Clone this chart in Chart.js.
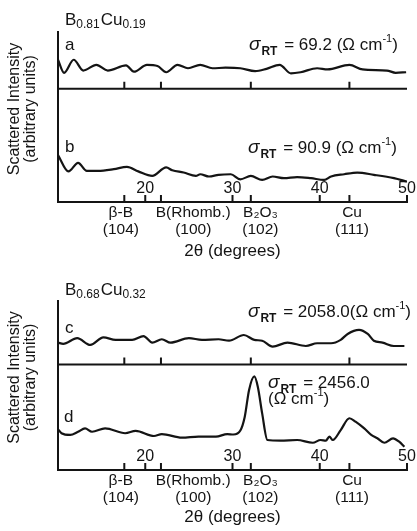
<!DOCTYPE html>
<html>
<head>
<meta charset="utf-8">
<script src="https://cdn.jsdelivr.net/npm/chart.js@4"></script>
<style>
  body { margin: 0; background: #fff; }
  canvas { position: absolute; left: 0; }
  #upperChart { top: 0; }
  #lowerChart { top: 265px; }
</style>
</head>
<body>
<canvas id="upperChart" width="417" height="265"></canvas>
<canvas id="lowerChart" width="417" height="266"></canvas>
<script>
// reference reflections marked under each pair of patterns
const refAngles = [17.6, 21.8, 32.1, 43.4];
const refNames = ['β-B', 'B(Rhomb.)', 'B₂O₃', 'Cu'];
const refPlanes = ['(104)', '(100)', '(102)', '(111)'];
const refLabelAngles = [17.2, 25.5, 33.2, 43.7];
const degreeTicks = [20, 30, 40, 50];

// B0.81Cu0.19, pattern a
const aAngle = [10.0, 10.7, 11.8, 12.9, 14.4, 15.7, 17.8, 18.7, 20.2, 21.4, 22.4, 23.7, 24.9, 26.3, 27.7,
  29.2, 30.9, 32.6, 33.9, 35.4, 36.7, 37.8, 39.7, 40.9, 43.4, 44.9, 47.7, 48.7, 49.9];
const aIntensity = [5.1, 2.8, 5.1, 3.2, 4.2, 3.2, 4.1, 3.0, 4.2, 4.0, 2.9, 4.2, 3.6, 4.2, 3.6,
  3.7, 3.6, 3.1, 3.5, 4.2, 2.7, 2.9, 3.6, 3.4, 4.2, 3.4, 3.2, 2.8, 2.9];

// B0.81Cu0.19, pattern b
const bAngle = [10.0, 11.2, 12.3, 13.3, 14.6, 16.4, 17.9, 19.2, 20.8, 22.4, 23.1, 24.4, 25.8, 26.3, 27.3,
  28.4, 29.8, 30.9, 32.1, 33.4, 34.6, 35.9, 37.4, 39.0, 40.5, 41.3, 42.8, 44.3, 46.2, 48.5, 50.0];
const bIntensity = [8.3, 5.4, 6.9, 5.5, 5.5, 5.8, 6.2, 5.4, 4.6, 6.1, 5.6, 5.2, 4.6, 4.9, 4.5,
  4.8, 4.9, 4.0, 4.6, 3.9, 4.5, 4.2, 4.4, 4.2, 3.9, 4.5, 4.9, 5.2, 4.8, 4.2, 3.6];

// B0.68Cu0.32, pattern c
const cAngle = [10.0, 10.6, 12.2, 13.7, 15.2, 16.6, 18.5, 19.8, 20.8, 21.9, 22.9, 25.0, 26.5, 28.4, 29.6,
  31.3, 32.5, 33.4, 34.6, 36.3, 38.4, 39.7, 41.3, 42.4, 43.2, 44.5, 45.5, 46.2, 47.2, 48.5, 49.7];
const cIntensity = [10.3, 9.7, 12.4, 9.2, 12.8, 11.6, 11.6, 13.4, 10.3, 11.9, 10.3, 12.4, 11.6, 11.9, 11.2,
  13.9, 11.6, 11.2, 8.4, 10.3, 8.7, 10.0, 10.0, 11.6, 14.4, 16.3, 14.4, 11.2, 10.3, 8.7, 8.7];

// B0.68Cu0.32, pattern d
const dAngle = [10.0, 10.4, 11.4, 12.3, 13.1, 13.9, 15.4, 17.7, 18.9, 21.0, 21.9, 24.2, 26.1, 28.1, 29.4,
  30.1, 30.9, 31.4, 31.9, 32.5, 32.9, 33.4, 34.0, 35.5, 37.4, 39.2, 40.1, 40.7, 41.1, 41.5,
  42.4, 43.4, 44.1, 45.1, 45.9, 46.6, 47.4, 48.4, 49.1, 49.7];
const dIntensity = [19.3, 17.4, 16.6, 18.1, 19.7, 18.1, 19.7, 17.4, 18.5, 16.1, 17.0, 15.3, 15.8, 15.8, 17.0,
  16.8, 18.7, 25.1, 37.9, 44.3, 39.4, 26.8, 14.2, 13.9, 14.2, 12.9, 14.2, 13.9, 15.8, 14.2,
  18.9, 24.5, 22.9, 19.7, 16.6, 15.0, 12.9, 15.0, 13.4, 11.0];

const ink = '#141414';
const FONT = '"Liberation Sans", Arial, sans-serif';

Chart.defaults.font.family = FONT;
Chart.defaults.color = ink;

function points(angles, values, offset) {
  return angles.map((a, i) => ({ x: a, y: values[i] + offset }));
}

function trace(angles, values, offset) {
  return {
    data: points(angles, values, offset),
    borderColor: ink,
    borderWidth: 2.2,
    pointRadius: 0,
    fill: false,
    cubicInterpolationMode: 'monotone'
  };
}

// text with sub/superscripts, drawn piece by piece
function drawRuns(ctx, x, y, runs) {
  runs.forEach(r => {
    ctx.font = r.font;
    ctx.fillText(r.text, x, y + (r.dy || 0));
    x += ctx.measureText(r.text).width + (r.gap || 0);
  });
}

const big = '17px ' + FONT;
const small = '11px ' + FONT;

function formula(b, cu) {
  return [
    { text: 'B', font: big },
    { text: b, font: '12px ' + FONT, dy: 3, gap: 1 },
    { text: 'Cu', font: big },
    { text: cu, font: '12px ' + FONT, dy: 3 }
  ];
}

function sigma(rest) {
  return [
    { text: 'σ', font: 'italic 19px ' + FONT, gap: 1 },
    { text: 'RT', font: 'bold 12px ' + FONT, dy: 5, gap: 2 },
    { text: rest, font: big }
  ];
}

function units(prefix) {
  return [
    { text: prefix + '(Ω cm', font: big },
    { text: '-1', font: small, dy: -8 },
    { text: ')', font: big }
  ];
}

const figureMarks = {
  id: 'figureMarks',
  afterDatasetsDraw(chart, args, opts) {
    const { ctx, chartArea, scales: { x, y } } = chart;
    const yDiv = y.getPixelForValue(opts.divider);
    ctx.save();
    ctx.strokeStyle = ink;
    ctx.fillStyle = ink;
    ctx.lineWidth = 2;

    // axis between the two patterns
    ctx.beginPath();
    ctx.moveTo(chartArea.left, yDiv);
    ctx.lineTo(chartArea.right, yDiv);
    // inward tick marks
    const tick = (v, py) => {
      const px = x.getPixelForValue(v);
      ctx.moveTo(px, py);
      ctx.lineTo(px, py - 7);
    };
    refAngles.forEach(v => tick(v, yDiv));
    refAngles.concat(degreeTicks).forEach(v => tick(v, chartArea.bottom));
    ctx.stroke();

    ctx.textAlign = 'center';
    ctx.textBaseline = 'alphabetic';
    ctx.font = '16px ' + FONT;
    degreeTicks.forEach(v => ctx.fillText(String(v), x.getPixelForValue(v), chartArea.bottom - 9));

    // vertical axis title
    ctx.save();
    ctx.translate(0, (chartArea.top + chartArea.bottom) / 2 - 8);
    ctx.rotate(-Math.PI / 2);
    ctx.font = '16px ' + FONT;
    ctx.textBaseline = 'middle';
    ctx.fillText('Scattered Intensity', 0, 15);
    ctx.fillText('(arbitrary units)', 0, 31);
    ctx.restore();

    ctx.textAlign = 'left';
    opts.notes.forEach(n => drawRuns(ctx, n.x, n.y, n.runs));
    ctx.restore();
  }
};

function makeChart(id, cfg) {
  return new Chart(document.getElementById(id), {
    type: 'line',
    data: { datasets: cfg.datasets },
    plugins: [figureMarks],
    options: {
      responsive: false,
      animation: false,
      layout: { padding: { top: cfg.top, right: 10, left: 0, bottom: 0 } },
      plugins: {
        legend: { display: false },
        tooltip: { enabled: false },
        figureMarks: { divider: cfg.divider, notes: cfg.notes }
      },
      scales: {
        x: {
          type: 'linear',
          min: 10,
          max: 50,
          grid: { display: false, drawTicks: false },
          border: { display: true, color: ink, width: 2 },
          afterBuildTicks: s => { s.ticks = refLabelAngles.map(v => ({ value: v })); },
          afterFit: s => { s.height = cfg.axisHeight; },
          ticks: {
            autoSkip: false,
            maxRotation: 0,
            padding: 3,
            font: { size: 15.5, lineHeight: 1.05 },
            callback: (v, i) => [refNames[i], refPlanes[i]]
          },
          title: {
            display: true,
            text: '2θ (degrees)',
            font: { size: 17 },
            padding: { top: 0, bottom: 3 }
          }
        },
        y: {
          min: 0,
          max: cfg.yMax,
          grid: { display: false, drawTicks: false },
          border: { display: true, color: ink, width: 2 },
          ticks: { display: false },
          afterFit: s => { s.width = 58; }
        }
      }
    }
  });
}

makeChart('upperChart', {
  top: 32,
  axisHeight: 63,
  yMax: 30,
  divider: 20,
  datasets: [trace(aAngle, aIntensity, 20), trace(bAngle, bIntensity, 0)],
  notes: [
    { x: 65, y: 25, runs: formula('0.81', '0.19') },
    { x: 65, y: 50, runs: [{ text: 'a', font: big }] },
    { x: 249, y: 50, runs: sigma(' = 69.2 ').concat(units('')) },
    { x: 65, y: 152, runs: [{ text: 'b', font: big }] },
    { x: 248, y: 153, runs: sigma(' = 90.9 ').concat(units('')) }
  ]
});

makeChart('lowerChart', {
  top: 36,
  axisHeight: 61,
  yMax: 80,
  divider: 50,
  datasets: [trace(cAngle, cIntensity, 50), trace(dAngle, dIntensity, 0)],
  notes: [
    { x: 65, y: 30, runs: formula('0.68', '0.32') },
    { x: 65, y: 68, runs: [{ text: 'c', font: big }] },
    { x: 248, y: 52, runs: sigma(' = 2058.0').concat(units('')) },
    { x: 64, y: 157, runs: [{ text: 'd', font: big }] },
    { x: 268, y: 123, runs: sigma(' = 2456.0') },
    { x: 268, y: 139, runs: units('') }
  ]
});
</script>
</body>
</html>
